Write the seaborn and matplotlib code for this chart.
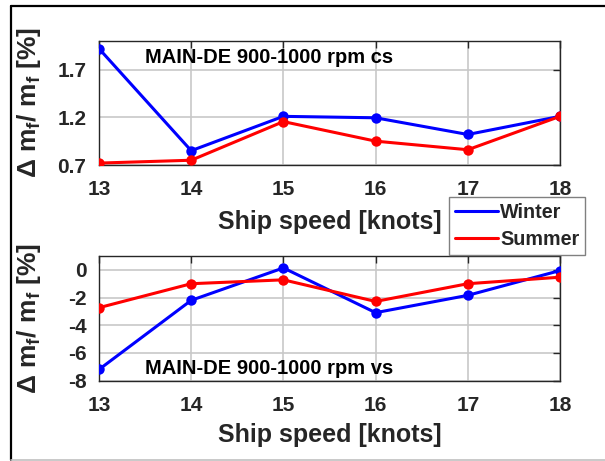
import numpy as np
import pandas as pd
import matplotlib
matplotlib.use("Agg")
import matplotlib.pyplot as plt
from matplotlib.lines import Line2D
import seaborn as sns

# ---- data ----
speed = [13, 14, 15, 16, 17, 18]
cs_winter = [1.92, 0.85, 1.21, 1.195, 1.02, 1.21]
cs_summer = [0.72, 0.75, 1.155, 0.95, 0.86, 1.21]
vs_winter = [-7.19, -2.2, 0.14, -3.09, -1.84, -0.05]
vs_summer = [-2.73, -1.0, -0.72, -2.28, -1.0, -0.53]
seasons = ["Winter", "Summer"]
cs_yticks = [0.7, 1.2, 1.7]
vs_yticks = [-8, -6, -4, -2, 0]
title_cs = "MAIN-DE 900-1000 rpm cs"
title_vs = "MAIN-DE 900-1000 rpm vs"
xlabel = "Ship speed [knots]"
ylabel = r"$\Delta$ m$_f$/ m$_f$ [%]"

sns.set_style("white")
plt.rcParams["font.family"] = ["Liberation Sans", "DejaVu Sans"]
plt.rcParams["font.weight"] = "bold"
plt.rcParams["mathtext.fontset"] = "custom"
plt.rcParams["mathtext.rm"] = "Liberation Sans:bold"
plt.rcParams["mathtext.it"] = "Liberation Sans:bold"
plt.rcParams["mathtext.bf"] = "Liberation Sans:bold"
plt.rcParams["mathtext.default"] = "regular"

palette = {"Winter": "#0000ff", "Summer": "#ff0000"}

def make_df(w, s):
    return pd.DataFrame({
        "speed": speed * 2,
        "value": list(w) + list(s),
        "season": ["Winter"] * len(speed) + ["Summer"] * len(speed),
    })

W, H = 605, 461
fig = plt.figure(figsize=(6.05, 4.61), dpi=100)
ax1 = fig.add_axes([99 / W, 1 - 165 / H, 461 / W, 124 / H])
ax2 = fig.add_axes([99 / W, 1 - 380.7 / H, 461 / W, 124.7 / H])

for ax, df, yt, ylim, title, ty, xl_y in [
    (ax1, make_df(cs_winter, cs_summer), cs_yticks, (0.7, 2.0), title_cs, 0.82, -0.36),
    (ax2, make_df(vs_winter, vs_summer), vs_yticks, (-8, 1), title_vs, 0.054, -0.34),
]:
    sns.lineplot(data=df, x="speed", y="value", hue="season", hue_order=seasons,
                 palette=palette, marker="o", markersize=7.5, markeredgewidth=0,
                 linewidth=2.2, ax=ax, legend=False, zorder=3)
    ax.set_xlim(13, 18)
    ax.set_ylim(*ylim)
    ax.set_xticks(speed)
    ax.set_yticks(yt)
    ax.set_yticklabels([f"{v:g}" for v in yt])
    ax.grid(True, color="#c8c8c8", linewidth=1.2)
    ax.tick_params(direction="in", length=5, width=1, top=True, right=True,
                   labelsize=15, colors="#262626", pad=11)
    ax.tick_params(axis="y", pad=9)
    for sp in ax.spines.values():
        sp.set_color("#262626")
        sp.set_linewidth(1.0)
        sp.set_visible(True)
    ax.set_xlabel(xlabel, fontsize=18, fontweight="bold", color="#262626")
    ax.set_ylabel(ylabel, fontsize=19, fontweight="bold", color="#262626")
    ax.xaxis.set_label_coords(0.5, xl_y)
    ax.yaxis.set_label_coords(-0.122, 0.5)
    ax.text(0.0998, ty, title, transform=ax.transAxes, fontsize=14.5,
            fontweight="bold", color="black", va="baseline", ha="left", zorder=5)

handles = [Line2D([], [], color=palette[s], linewidth=2.2) for s in seasons]
leg = fig.legend(handles, seasons, loc="upper left",
                 bbox_to_anchor=(449 / W, 1 - 197 / H), fontsize=14.2,
                 frameon=True, fancybox=False, edgecolor="#808080",
                 framealpha=1, handlelength=2.2, handletextpad=0.1,
                 borderpad=0.3, labelspacing=0.4, borderaxespad=0)
leg.get_frame().set_linewidth(1.0)

# outer frame
fig.add_artist(Line2D([11 / W, 11 / W], [1 - 460 / H, 1 - 6 / H], color="black",
                      linewidth=1.6, transform=fig.transFigure))
fig.add_artist(Line2D([11 / W, 1.0], [1 - 6 / H, 1 - 6 / H], color="black",
                      linewidth=1.6, transform=fig.transFigure))
fig.add_artist(Line2D([11 / W, 1.0], [1 - 460 / H, 1 - 460 / H], color="#c0c0c0",
                      linewidth=1.2, transform=fig.transFigure))

fig.savefig("out.png", dpi=100)
